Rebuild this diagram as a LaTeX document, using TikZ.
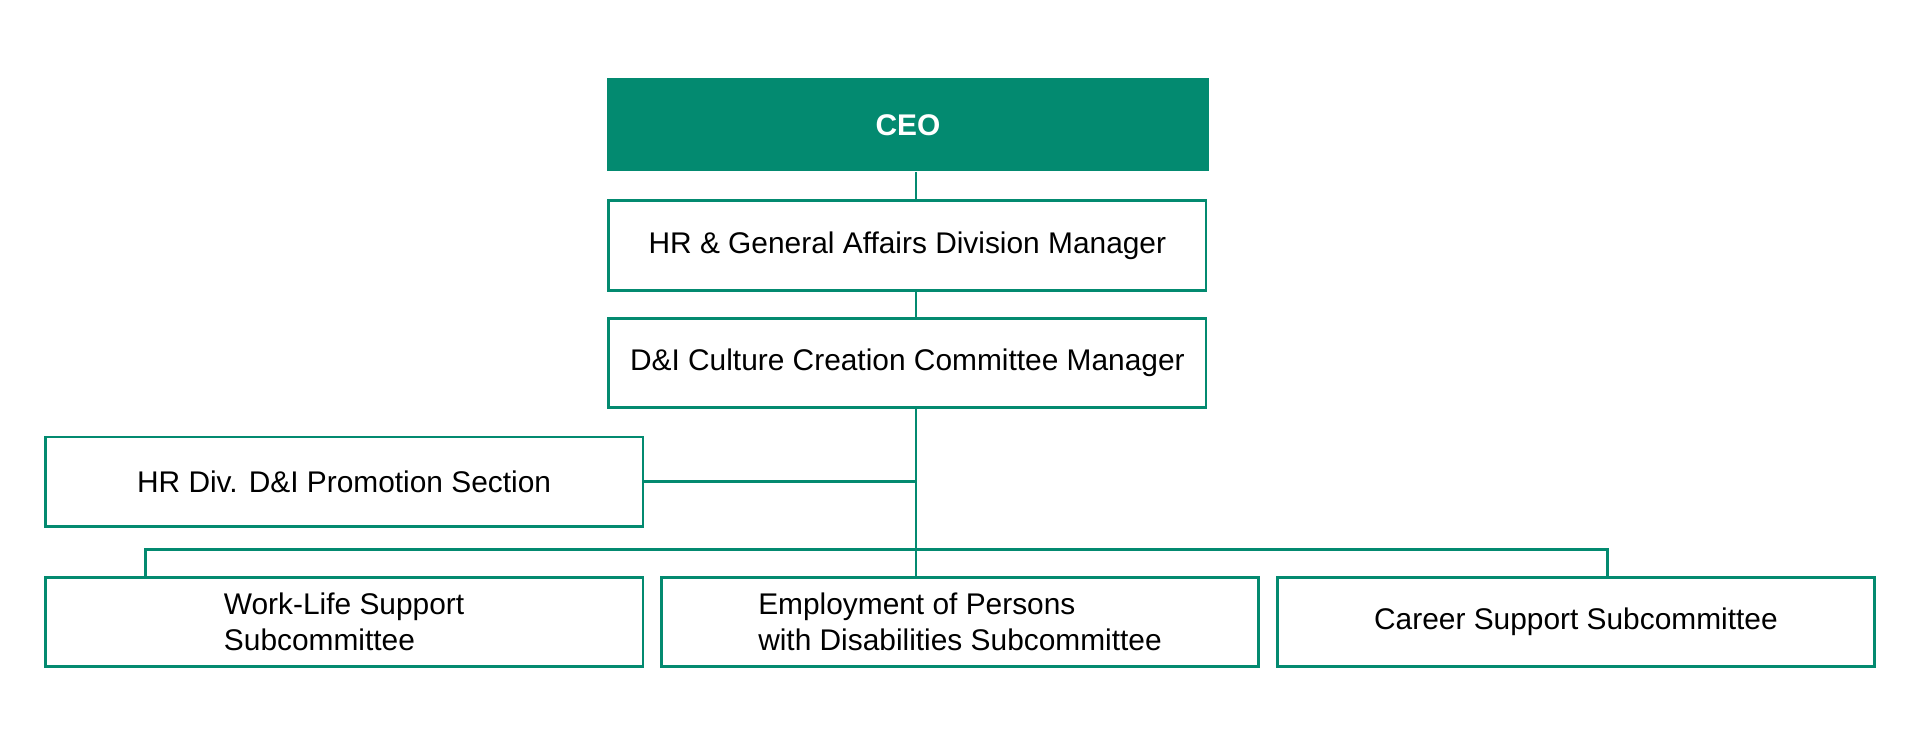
\documentclass[tikz,border=0pt]{standalone}
\usepackage{fontspec}
\setmainfont{Liberation Sans}
\definecolor{teal1}{RGB}{3,138,112}
\begin{document}
\begin{tikzpicture}[x=0.5pt,y=-0.5pt,
 box/.style={draw=teal1,line width=1.1pt,fill=white,minimum width=244pt,minimum height=36.5pt,inner sep=0pt,font=\fontsize{12.2}{14.5}\selectfont,align=left},
 conn/.style={draw=teal1,line width=1.1pt}]
\useasboundingbox (0,0) rectangle (1568,594.6);
\node[fill=teal1,minimum width=245.5pt,minimum height=38pt,inner sep=0pt,text=white,font=\fontsize{12.2}{14.5}\selectfont\bfseries] (ceo) at (741.5,102) {CEO};
\node[box] (hr) at (741,200.5) {HR \& General Affairs Division Manager};
\node[box] (di) at (741,296.5) {D\&I Culture Creation Committee Manager};
\node[box] (sec) at (281,393.5) {HR Div. D\&I Promotion Section};
\node[box] (wl) at (281,508) {Work-Life Support\\Subcommittee};
\node[box] (emp) at (784,508) {Employment of Persons\\with Disabilities Subcommittee};
\node[box] (car) at (1287,508) {Career Support Subcommittee};
\coordinate (t) at (748,0);
\coordinate (dl) at (119,449);
\coordinate (dr) at (1313,449);
\draw[conn] (ceo.south -| t) -- (hr.north -| t);
\draw[conn] (hr.south -| t) -- (di.north -| t);
\draw[conn] (di.south -| t) -- (emp.north -| t);
\draw[conn] (sec.east) -- (sec.east -| t);
\draw[conn] (wl.north -| dl) -- (dl) -- (dr) -- (car.north -| dr);
\end{tikzpicture}
\end{document}
